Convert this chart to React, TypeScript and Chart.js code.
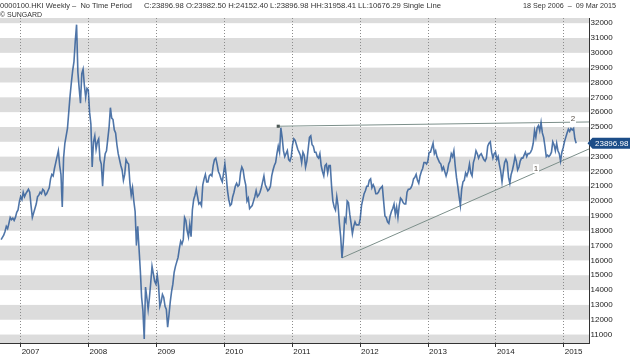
import React, { useEffect, useRef } from "react";
import { Chart, registerables } from "chart.js";

Chart.register(...registerables);

// ---------- data ----------
const START = Date.UTC(2006, 8, 18); // first weekly bar: 18 Sep 2006
const DAY_MS = 86400000;
const dayOf = (s: string) => (new Date(s + "T00:00:00Z").getTime() - START) / DAY_MS;

const closes2006 = [17400, 17550, 17700, 17950, 18300, 18150, 18500, 18900, 18750, 18850, 18700, 18900, 19250, 19400, 19950];
const closes2007 = [
  20300, 20100, 20600, 20300, 20500,
  20650, 20800, 20600, 19700,
  18900, 19200, 19500, 19800,
  20300, 20400, 20600, 20500, 20800,
  20700, 20400, 20500, 20700,
  20900, 21500, 21800, 21700,
  22200, 22600, 23000, 23400, 22400,
  21800, 19600, 22900, 23900,
  24400, 24900, 26000, 27100,
  28000, 28800, 29400, 30800, 31900,
  28700, 27600, 26600, 28600,
  28900, 27800, 27000, 27600, 27500,
];
const closes2008 = [
  26000, 25200, 22300, 24000,
  24400, 23500, 24000, 24200,
  22800, 22500, 21000, 22500, 23200,
  23400, 24200, 25000, 26300,
  25600, 25500, 24800, 24600,
  23800, 23200, 22800, 22400, 22100,
  21400, 21800, 22800, 22600,
  22500, 21200, 20400, 20900,
  20000, 19300, 17000, 18300, 16800,
  15300, 13500, 12600, 10700,
  14200, 13500, 12700, 13500,
  14500, 15600, 15100, 14600, 14400,
];
const closes2009 = [
  15000, 14300, 12900, 13200,
  13700, 13500, 12900, 12700,
  11500, 12300, 13200, 13900, 14400,
  15200, 15600, 15900, 16200,
  16800, 17300, 17100, 17400,
  18900, 18700, 18000, 17600, 18400,
  17600, 19400, 20100, 20400,
  20800, 20300, 19800, 19900, 19700,
  21100, 21500, 21800, 21300,
  21300, 21700, 21800, 21700,
  22400, 22800, 22900, 22500, 22000,
  21800, 21500, 21300, 21900,
];
const closes2010 = [
  22500, 21700, 20700, 20100,
  19700, 19800, 20300, 20600,
  21000, 21200, 21000, 21100, 21900,
  22300, 22100, 21500, 21100,
  20000, 20200, 19500, 19600, 19700,
  20000, 20300, 20700, 20300,
  20400, 20600, 20900, 21300,
  21700, 21100, 20900, 20700, 20800,
  21000, 21700, 22100, 22400,
  22600, 23200, 23700, 23300,
  24950, 24300, 23400, 23000, 23200,
  23400, 22800, 22700, 23000,
];
const closes2011 = [
  23800, 24200, 24100, 23800, 23500,
  23300, 23100, 22600, 23300,
  23100, 22300, 22700, 23500,
  24300, 24400, 23800, 23700,
  23300, 23300, 23000, 22900, 23200,
  22400, 22000, 21700, 22400,
  22500, 21900, 22400, 22400,
  21000, 20000, 19600, 19400, 20300,
  19700, 18500, 17600, 16170,
  17200, 18800, 18600, 20000, 19900,
  19100, 18500, 17800, 18300,
  18600, 18400, 18400, 18400,
];
const closes2012 = [
  18800, 19700, 20100, 20500, 20700,
  21000, 21000, 21400, 21500,
  20900, 21100, 20900, 20500,
  20500, 20600, 20800, 20900, 21000,
  20000, 19000, 18900, 18600,
  18500, 19000, 19300, 19500,
  19800, 19100, 19600, 18900, 19700,
  20200, 20100, 19900, 19800,
  19800, 20600, 20800, 20800,
  20900, 21100, 21500, 21600, 21800,
  21400, 21200, 21700, 22000,
  22200, 22600, 22600, 22500, 22700,
];
const closes2013 = [
  23300, 23300, 23600, 23900,
  23200, 23400, 23000, 22800,
  22600, 22500, 22100, 22300,
  22000, 21700, 22000, 22500, 22700,
  23200, 23000, 23400, 22400,
  21600, 21000, 20300, 19700,
  20800, 21300, 21400, 21900, 21700,
  22000, 22500, 21900, 21700,
  22600, 22900, 23400, 23200, 22900,
  23100, 23200, 23000, 22800,
  22700, 22900, 23700, 23900,
  24000, 23300, 22900, 23200, 23300,
];
const closes2014 = [
  22800, 23000, 22450, 22000,
  21300, 22000, 22600, 22800,
  22600, 21600, 21200, 21800, 22100,
  22500, 23000, 22700, 22100,
  22300, 22700, 22900, 22900,
  23100, 23300, 23000, 23200, 23200,
  23300, 23500, 23900, 24750,
  24300, 24950, 25100, 24750,
  25300, 24600, 24300, 23700, 23000,
  23100, 23000, 23100, 23300,
  24000, 23800, 23400, 23900,
  23400, 23200, 22700, 23300, 23600,
];
const closes2015 = [24000, 24300, 24600, 24850, 24700, 24900, 24800, 24900, 24200, 23896.98];

const yTickValues = [
  11000, 12000, 13000, 14000, 15000, 16000, 17000, 18000, 19000, 20000, 21000,
  22000, 23000, 24000, 25000, 26000, 27000, 28000, 29000, 30000, 31000, 32000,
];
const xTickYears = [2007, 2008, 2009, 2010, 2011, 2012, 2013, 2014, 2015];

const trendSupport = [
  { date: "2011-09-26", value: 16170 },
  { date: "2015-05-17", value: 23517 },
];
const trendResistance = [
  { date: "2010-10-18", value: 25050 },
  { date: "2015-05-17", value: 25338 },
];
const trendLabels = [
  { text: "1", date: "2014-08-05", value: 22190 },
  { text: "2", date: "2015-02-20", value: 25540 },
];

const headerLeft = "0000100.HKI Weekly \u2013  No Time Period";
const headerStats = "C:23896.98 O:23982.50 H:24152.40 L:23896.98 HH:31958.41 LL:10676.29 Single Line";
const headerDates = "18 Sep 2006  \u2013  09 Mar 2015";
const headerSource = "\u00A9 SUNGARD";

const X_MIN_DATE = "2006-09-12";
const X_MAX_DATE = "2015-05-17";
const Y_MIN = 10430;
const Y_MAX = 32350;

const closes = [
  ...closes2006, ...closes2007, ...closes2008, ...closes2009, ...closes2010,
  ...closes2011, ...closes2012, ...closes2013, ...closes2014, ...closes2015,
];
const weeklyPoints = closes.map((v, i) => ({ x: i * 7, y: v }));
const lastClose = closes[closes.length - 1];

const FONT = "'Liberation Sans', Arial, sans-serif";

export default function App() {
  const ref = useRef<HTMLCanvasElement>(null);

  useEffect(() => {
    const canvas = ref.current;
    if (!canvas) return;

    const bandsPlugin = {
      id: "bands",
      beforeDraw(chart: any) {
        const { ctx, chartArea, scales } = chart;
        const y = scales.y;
        ctx.save();
        ctx.fillStyle = "#dcdcdc";
        for (let i = 0; i < yTickValues.length; i++) {
          const v = yTickValues[i];
          // grey band from the even thousand up to the odd thousand
          if ((v / 1000) % 2 === 1) {
            const lo = v - 1000;
            const t = Math.max(chartArea.top, y.getPixelForValue(v));
            const b = Math.min(chartArea.bottom, y.getPixelForValue(lo));
            if (b > t) ctx.fillRect(chartArea.left, t, chartArea.right - chartArea.left, b - t);
          }
        }
        const topV = yTickValues[yTickValues.length - 1];
        if ((topV / 1000) % 2 === 0) {
          const b = y.getPixelForValue(topV);
          if (b > chartArea.top) ctx.fillRect(chartArea.left, chartArea.top, chartArea.right - chartArea.left, b - chartArea.top);
        }
        ctx.restore();
      },
    };

    const overlayPlugin = {
      id: "overlay",
      afterDraw(chart: any) {
        const { ctx, scales } = chart;
        const x = scales.x;
        const y = scales.y;
        ctx.save();
        // header
        ctx.fillStyle = "#333";
        ctx.font = `8px ${FONT}`;
        ctx.textAlign = "left";
        ctx.textBaseline = "alphabetic";
        ctx.fillText(headerLeft, 0, 7.5, 132);
        ctx.fillText(headerStats, 144, 7.5, 297);
        ctx.fillText(headerDates, 523, 7.5, 93);
        ctx.fillText(headerSource, 0, 16.5, 42);

        // trend labels
        ctx.textAlign = "center";
        ctx.textBaseline = "middle";
        for (const l of trendLabels) {
          const px = x.getPixelForValue(dayOf(l.date));
          const py = y.getPixelForValue(l.value);
          ctx.fillStyle = "#ffffff";
          ctx.fillRect(px - 3, py - 4.5, 6, 9);
          ctx.fillStyle = "#5a5048";
          ctx.fillText(l.text, px, py);
        }

        // last price tag
        const ty = y.getPixelForValue(lastClose);
        const left = chart.chartArea.right;
        ctx.fillStyle = "#1c4d88";
        ctx.beginPath();
        ctx.moveTo(left - 1.5, ty);
        ctx.lineTo(left + 3.5, ty - 5.5);
        ctx.lineTo(630, ty - 5.5);
        ctx.lineTo(630, ty + 5.5);
        ctx.lineTo(left + 3.5, ty + 5.5);
        ctx.closePath();
        ctx.fill();
        ctx.fillStyle = "#ffffff";
        ctx.textAlign = "left";
        ctx.textBaseline = "middle";
        ctx.font = `8px ${FONT}`;
        ctx.fillText(lastClose.toFixed(2), left + 6, ty + 0.5);
        ctx.restore();
      },
    };

    const yearTickDays = xTickYears.map((yr) => (Date.UTC(yr, 0, 1) - START) / DAY_MS);

    const chart = new Chart(canvas, {
      type: "line",
      data: {
        datasets: [
          {
            data: weeklyPoints,
            borderColor: "rgba(42,88,150,0.82)",
            borderWidth: 1.6,
            pointRadius: 0,
            tension: 0,
          },
          {
            data: trendSupport.map((p) => ({ x: dayOf(p.date), y: p.value })),
            borderColor: "#7c8f8a",
            borderWidth: 1,
            pointRadius: 0,
          },
          {
            data: trendResistance.map((p) => ({ x: dayOf(p.date), y: p.value })),
            borderColor: "#7c8f8a",
            borderWidth: 1,
            pointRadius: [2.2, 0],
            pointStyle: "rect",
            pointBackgroundColor: "#4d5956",
            pointBorderWidth: 0,
          },
        ],
      } as any,
      options: {
        animation: false,
        responsive: false,
        events: [],
        layout: { autoPadding: false, padding: { top: 18, left: 0, right: 0, bottom: 0 } },
        plugins: { legend: { display: false }, tooltip: { enabled: false } },
        scales: {
          x: {
            type: "linear",
            min: dayOf(X_MIN_DATE),
            max: dayOf(X_MAX_DATE),
            afterBuildTicks: (s: any) => {
              s.ticks = yearTickDays.map((v) => ({ value: v }));
            },
            afterFit: (s: any) => {
              s.height = 15;
              s.paddingLeft = 0;
              s.paddingRight = 0;
            },
            grid: {
              display: true,
              drawOnChartArea: true,
              drawTicks: true,
              tickLength: 4,
              color: "#8c8c8c",
              lineWidth: 1,
              tickColor: "#333",
              tickWidth: 1,
              tickBorderDash: [],
            },
            border: { display: true, color: "#333", width: 1, dash: [1, 2] },
            ticks: {
              autoSkip: false,
              maxRotation: 0,
              align: "start",
              labelOffset: 1,
              padding: 0,
              color: "#222",
              font: { family: FONT, size: 8 },
              callback: (v: any) => String(new Date(START + Number(v) * DAY_MS + DAY_MS).getUTCFullYear()),
            },
          },
          y: {
            type: "linear",
            position: "right",
            min: Y_MIN,
            max: Y_MAX,
            afterBuildTicks: (s: any) => {
              s.ticks = yTickValues.map((v) => ({ value: v }));
            },
            afterFit: (s: any) => {
              s.width = 41;
              s.paddingTop = 0;
              s.paddingBottom = 0;
            },
            grid: { display: false, drawTicks: false, drawOnChartArea: false },
            border: { display: true, color: "#333", width: 1 },
            ticks: {
              autoSkip: false,
              padding: 1.5,
              color: "#222",
              font: { family: FONT, size: 8 },
              callback: (v: any) => String(v),
            },
          },
        },
      } as any,
      plugins: [bandsPlugin, overlayPlugin],
    });

    return () => chart.destroy();
  }, []);

  return (
    <div style={{ position: "fixed", left: 0, top: 0, width: 630, height: 358, background: "#fff" }}>
      <canvas ref={ref} width={630} height={358} style={{ display: "block", width: 630, height: 358 }} />
    </div>
  );
}
